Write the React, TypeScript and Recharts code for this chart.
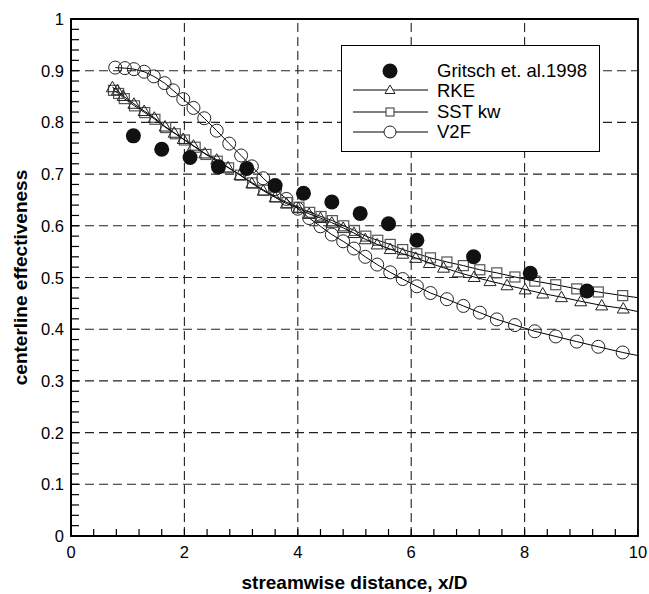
import { ScatterChart, Scatter, XAxis, YAxis, ReferenceLine, ReferenceArea, Label } from 'recharts';

// Gritsch et al. 1998 experiment
const gritschX = [1.1, 1.6, 2.1, 2.6, 3.1, 3.6, 4.1, 4.6, 5.1, 5.6, 6.1, 7.1, 8.1, 9.1];
const gritschY = [0.774, 0.748, 0.732, 0.714, 0.711, 0.678, 0.663, 0.646, 0.624, 0.604, 0.572, 0.54, 0.508, 0.474];

// RKE (last point at x=10 is line only)
const rkeX = [0.73, 0.82, 0.92, 1.11, 1.29, 1.47, 1.66, 1.82, 1.98, 2.16, 2.36, 2.57, 2.77, 2.98, 3.19, 3.39, 3.6, 3.8, 4.01, 4.2, 4.4, 4.6, 4.8, 4.99, 5.19, 5.4, 5.63, 5.85, 6.08, 6.32, 6.57, 6.83, 7.11, 7.39, 7.69, 8.01, 8.32, 8.65, 8.99, 9.36, 9.74, 10];
const rkeY = [0.868, 0.862, 0.851, 0.836, 0.822, 0.809, 0.792, 0.78, 0.768, 0.755, 0.74, 0.728, 0.713, 0.698, 0.682, 0.668, 0.655, 0.643, 0.634, 0.623, 0.615, 0.606, 0.596, 0.586, 0.574, 0.564, 0.555, 0.546, 0.538, 0.528, 0.519, 0.51, 0.501, 0.493, 0.485, 0.477, 0.469, 0.462, 0.454, 0.446, 0.44, 0.434];

// SST k-w
const sstX = [0.75, 0.84, 0.94, 1.12, 1.3, 1.48, 1.67, 1.84, 2.0, 2.19, 2.38, 2.58, 2.78, 2.99, 3.2, 3.4, 3.61, 3.81, 4.02, 4.21, 4.41, 4.61, 4.81, 5.0, 5.2, 5.41, 5.63, 5.85, 6.1, 6.34, 6.63, 6.92, 7.21, 7.51, 7.83, 8.18, 8.55, 8.92, 9.3, 9.73, 10];
const sstY = [0.862, 0.856, 0.846, 0.832, 0.819, 0.806, 0.79, 0.778, 0.766, 0.752, 0.738, 0.725, 0.712, 0.698, 0.683, 0.669, 0.656, 0.645, 0.636, 0.626, 0.618, 0.61, 0.6, 0.591, 0.58, 0.572, 0.564, 0.554, 0.546, 0.538, 0.53, 0.523, 0.515, 0.509, 0.501, 0.493, 0.486, 0.478, 0.472, 0.465, 0.461];

// V2F
const v2fX = [0.78, 0.95, 1.11, 1.29, 1.46, 1.65, 1.8, 1.98, 2.16, 2.35, 2.57, 2.79, 3.0, 3.19, 3.39, 3.6, 3.8, 4.0, 4.2, 4.4, 4.6, 4.8, 4.99, 5.19, 5.4, 5.63, 5.85, 6.1, 6.34, 6.63, 6.92, 7.21, 7.51, 7.83, 8.18, 8.55, 8.92, 9.3, 9.73, 10];
const v2fY = [0.906, 0.905, 0.903, 0.898, 0.889, 0.876, 0.862, 0.845, 0.828, 0.808, 0.784, 0.759, 0.736, 0.715, 0.692, 0.671, 0.652, 0.633, 0.615, 0.599, 0.583, 0.57, 0.556, 0.54, 0.525, 0.51, 0.497, 0.483, 0.47, 0.458, 0.445, 0.432, 0.419, 0.408, 0.396, 0.386, 0.376, 0.366, 0.355, 0.349];

const xTicks = [0, 0.4, 0.8, 1.2, 1.6, 2, 2.4, 2.8, 3.2, 3.6, 4, 4.4, 4.8, 5.2, 5.6, 6, 6.4, 6.8, 7.2, 7.6, 8, 8.4, 8.8, 9.2, 9.6, 10];
const yTicks = [0, 0.02, 0.04, 0.06, 0.08, 0.1, 0.12, 0.14, 0.16, 0.18, 0.2, 0.22, 0.24, 0.26, 0.28, 0.3, 0.32, 0.34, 0.36, 0.38, 0.4, 0.42, 0.44, 0.46, 0.48, 0.5, 0.52, 0.54, 0.56, 0.58, 0.6, 0.62, 0.64, 0.66, 0.68, 0.7, 0.72, 0.74, 0.76, 0.78, 0.8, 0.82, 0.84, 0.86, 0.88, 0.9, 0.92, 0.94, 0.96, 0.98, 1];
const gridX = [2, 4, 6, 8];
const gridY = [0.1, 0.2, 0.3, 0.4, 0.5, 0.6, 0.7, 0.8, 0.9];

const FONT = '"Liberation Sans", Arial, sans-serif';

const toPoints = (xs: number[], ys: number[]) => xs.map((x, i) => ({ x, y: ys[i] }));

const gritsch = toPoints(gritschX, gritschY);
const rke = toPoints(rkeX, rkeY);
const sst = toPoints(sstX, sstY);
const v2f = toPoints(v2fX, v2fY);

const lineOnly = (p: any) => p && p.payload && p.payload.x >= 10;

const Dot = (p: any) => <circle cx={p.cx} cy={p.cy} r={7.5} fill="#111" />;
const Tri = (p: any) =>
  lineOnly(p) ? <g /> : (
    <path d={`M${p.cx},${p.cy - 6} L${p.cx + 6},${p.cy + 4.5} L${p.cx - 6},${p.cy + 4.5} Z`} fill="none" stroke="#222" strokeWidth={1} />
  );
const Sq = (p: any) =>
  lineOnly(p) ? <g /> : <rect x={p.cx - 5} y={p.cy - 5} width={10} height={10} fill="none" stroke="#555" strokeWidth={1.2} />;
const Circ = (p: any) =>
  lineOnly(p) ? <g /> : <circle cx={p.cx} cy={p.cy} r={6.5} fill="none" stroke="#222" strokeWidth={1} />;

const XTick = (props: any) => {
  const { x, y, payload } = props;
  const v = payload.value;
  const major = Math.abs(v / 2 - Math.round(v / 2)) < 1e-6;
  return (
    <g>
      <line x1={x} x2={x} y1={y} y2={y - 7} stroke="#000" strokeWidth={1.2} />
      {major && (
        <text x={x} y={y + 22} textAnchor="middle" fontSize={16.5} fontFamily={FONT} fill="#000">
          {v}
        </text>
      )}
    </g>
  );
};

const YTick = (props: any) => {
  const { x, y, payload } = props;
  const v = payload.value;
  const major = Math.abs(v * 10 - Math.round(v * 10)) < 1e-6;
  return (
    <g>
      <line x1={x} x2={x + 8} y1={y} y2={y} stroke="#000" strokeWidth={1.2} />
      {major && (
        <text x={x - 7} y={y + 6} textAnchor="end" fontSize={16.5} fontFamily={FONT} fill="#000">
          {v}
        </text>
      )}
    </g>
  );
};

export default function App() {
  return (
    <div style={{ position: 'absolute', left: 0, top: 0, width: 649, height: 594, background: '#fff', fontFamily: FONT }}>
      <ScatterChart width={649} height={594} margin={{ top: 19, right: 11, bottom: 0, left: 0 }}>
        {gridX.map((g) => (
          <ReferenceLine key={'gx' + g} x={g} stroke="#222" strokeWidth={1.1} strokeDasharray="9 5" />
        ))}
        {gridY.map((g) => (
          <ReferenceLine key={'gy' + g} y={g} stroke="#222" strokeWidth={1.1} strokeDasharray="9 5" />
        ))}
        <XAxis
          dataKey="x"
          type="number"
          domain={[0, 10]}
          ticks={xTicks}
          interval={0}
          tick={<XTick />}
          tickLine={false}
          tickSize={0}
          tickMargin={0}
          axisLine={{ stroke: '#000', strokeWidth: 1.8 }}
          height={58}
          allowDataOverflow
        >
          <Label
            value="streamwise distance, x/D"
            position="insideBottom"
            offset={5}
            style={{ fontSize: 19, fontWeight: 'bold', fill: '#000', fontFamily: FONT }}
          />
        </XAxis>
        <YAxis
          dataKey="y"
          type="number"
          domain={[0, 1]}
          ticks={yTicks}
          interval={0}
          tick={<YTick />}
          tickLine={false}
          tickSize={0}
          tickMargin={0}
          axisLine={{ stroke: '#000', strokeWidth: 1.8 }}
          width={71}
          allowDataOverflow
        >
          <Label
            value="centerline effectiveness"
            position="insideLeft"
            angle={-90}
            offset={20}
            style={{ fontSize: 19, fontWeight: 'bold', fill: '#000', fontFamily: FONT, textAnchor: 'middle' }}
          />
        </YAxis>
        <ReferenceArea x1={0} x2={10} y1={0} y2={1} fill="none" stroke="#000" strokeWidth={1.8} />
        <Scatter data={v2f} line={{ stroke: '#000', strokeWidth: 1 }} lineType="joint" shape={Circ} isAnimationActive={false} />
        <Scatter data={sst} line={{ stroke: '#000', strokeWidth: 1 }} lineType="joint" shape={Sq} isAnimationActive={false} />
        <Scatter data={rke} line={{ stroke: '#000', strokeWidth: 1 }} lineType="joint" shape={Tri} isAnimationActive={false} />
        <Scatter data={gritsch} shape={Dot} isAnimationActive={false} />
      </ScatterChart>

      {/* legend box */}
      <div
        style={{
          position: 'absolute',
          left: 341,
          top: 45,
          width: 259,
          height: 107,
          boxSizing: 'border-box',
          border: '1.5px solid #000',
          background: '#fff',
        }}
      >
        <svg width={256} height={104} style={{ position: 'absolute', left: 0, top: 0 }}>
          <circle cx={48} cy={25} r={7.5} fill="#111" />
          <line x1={11} x2={86} y1={44} y2={44} stroke="#000" strokeWidth={1} />
          <path d="M48,39 L53,47.5 L43,47.5 Z" fill="#fff" stroke="#222" strokeWidth={1} />
          <line x1={11} x2={86} y1={66} y2={66} stroke="#000" strokeWidth={1} />
          <rect x={44} y={62} width={8} height={8} fill="#fff" stroke="#444" strokeWidth={1.1} />
          <line x1={11} x2={86} y1={86} y2={86} stroke="#000" strokeWidth={1} />
          <circle cx={48} cy={86} r={6} fill="#fff" stroke="#222" strokeWidth={1} />
          <g fontSize={18.5} fontFamily={FONT} fill="#000">
            <text x={95} y={31}>Gritsch et. al.1998</text>
            <text x={95} y={51}>RKE</text>
            <text x={95} y={72}>SST kw</text>
            <text x={95} y={92}>V2F</text>
          </g>
        </svg>
      </div>
    </div>
  );
}
